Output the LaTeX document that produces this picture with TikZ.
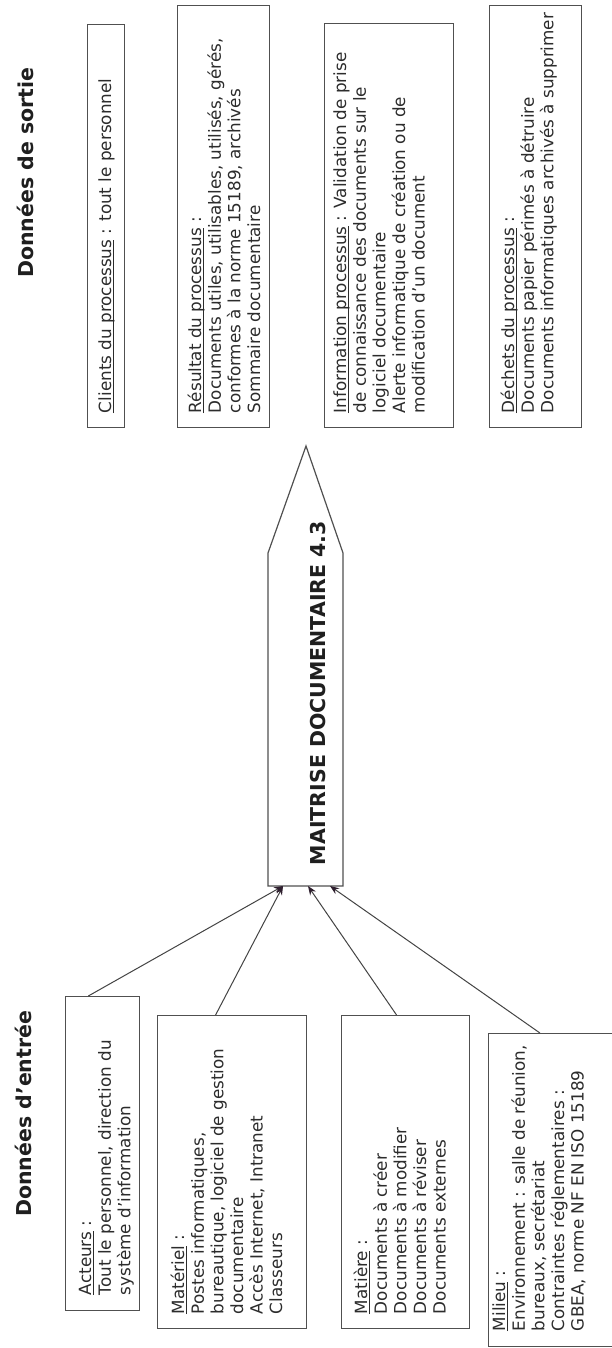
\documentclass[tikz,border=0pt]{standalone}
\usepackage{fontspec}
\setmainfont{DejaVu Sans}
\usetikzlibrary{calc,arrows.meta}

\definecolor{ink}{HTML}{2C2C2C}
\definecolor{framec}{HTML}{505050}
\definecolor{wire}{HTML}{444444}
\definecolor{tipc}{HTML}{2E1F2E}

% underline that sits just below the baseline
\newsavebox\ulbox
\newcommand\ulw[1]{\sbox\ulbox{#1}\rlap{\rule[-2.2pt]{\wd\ulbox}{0.8pt}}\usebox\ulbox}
% fixed height for the first line of every text block
\newcommand\firstline{\rule{0pt}{14pt}}

\begin{document}
\begin{tikzpicture}[x=1pt,y=-1pt,
  boxframe/.style={draw=framec, line width=1.2pt, rectangle, inner sep=0pt, anchor=north west},
  body/.style={rotate=90, anchor=north west, inner sep=0pt, align=left, text=ink,
    font=\fontsize{16.8}{19.6}\selectfont},
  heading/.style={rotate=90, anchor=base west, inner sep=0pt, text=black!88,
    font=\fontsize{20.5}{24}\selectfont\bfseries},
  feed/.style={draw=wire, line width=1pt, -{Stealth[length=9pt,width=7pt,color=tipc]}}
]
\useasboundingbox (0,0) rectangle (612,1348);
\fill[white] (0,0) rectangle (612,1348);

% ---------- headings ----------
\node[heading] (outT) at (33.5,278) {Données de sortie};
\node[heading] (inT) at (31,1217) {Données d’entrée};

% ---------- output boxes ----------
\node[boxframe, minimum width=37pt, minimum height=403pt] (cli) at (87,24) {};
\node[boxframe, minimum width=92pt, minimum height=422pt] (res) at (177,5) {};
\node[boxframe, minimum width=129pt, minimum height=404pt] (inf) at (324,23) {};
\node[boxframe, minimum width=92pt, minimum height=422pt] (dec) at (489,5) {};

\node[body] (cliT) at ($(cli.south west)+(10,-15)$)
  {\firstline\ulw{Clients du processus} : tout le personnel};
\node[body] (resT) at ($(res.south west)+(10,-15)$)
  {\firstline\ulw{Résultat du processus} :\\
   Documents utiles, utilisables, utilisés, gérés,\\
   conformes à la norme 15189, archivés\\
   Sommaire documentaire};
\node[body] (infT) at ($(inf.south west)+(8,-15)$)
  {\firstline\ulw{Information processus} : Validation de prise\\
   de connaissance des documents sur le\\
   logiciel documentaire\\
   Alerte informatique de création ou de\\
   modification d’un document};
\node[body] (decT) at ($(dec.south west)+(11,-15)$)
  {\firstline\ulw{Déchets du processus} :\\
   Documents papier périmés à détruire\\
   Documents informatiques archivés à supprimer};

% ---------- process arrow ----------
\coordinate (procTip) at (306,446);
\coordinate (procL) at (268,553);
\coordinate (procR) at (343,553);
\coordinate (procBL) at (268,886);
\coordinate (procBR) at (343,886);
\draw[draw=framec, line width=1.2pt, line join=miter]
  (procL) -- (procTip) -- (procR) -- (procBR) -- (procBL) -- cycle;
\node[rotate=90, anchor=base, inner sep=0pt, text=black!88,
  font=\fontsize{20.5}{24}\selectfont\bfseries] (proc) at (325,693)
  {MAITRISE DOCUMENTAIRE 4.3};

% ---------- input boxes ----------
\node[boxframe, minimum width=74pt, minimum height=314pt] (act) at (65,996) {};
\node[boxframe, minimum width=149pt, minimum height=313pt] (mat) at (157,1015) {};
\node[boxframe, minimum width=128pt, minimum height=313pt] (mtr) at (341,1015) {};
\node[boxframe, minimum width=132pt, minimum height=313pt] (mil) at (488,1033) {};

\node[body] (actT) at ($(act.south west)+(12,-16)$)
  {\firstline\ulw{Acteurs} :\\
   Tout le personnel, direction du\\
   système d’information};
\node[body] (matT) at ($(mat.south west)+(13,-15)$)
  {\firstline\ulw{Matériel} :\\
   Postes informatiques,\\
   bureautique, logiciel de gestion\\
   documentaire\\
   Accès Internet, Intranet\\
   Classeurs};
\node[body] (mtrT) at ($(mtr.south west)+(12,-15)$)
  {\firstline\ulw{Matière} :\\
   Documents à créer\\
   Documents à modifier\\
   Documents à réviser\\
   Documents externes};
\node[body] (milT) at ($(mil.south west)+(3,-16)$)
  {\firstline\ulw{Milieu} :\\
   Environnement : salle de réunion,\\
   bureaux, secrétariat\\
   Contraintes réglementaires :\\
   GBEA, norme NF EN ISO 15189};

% ---------- feeds into the process ----------
\draw[feed] ($(act.north west)!0.31!(act.north east)$) -- ($(procBL)!0.2!(procBR)$);
\draw[feed] ($(mat.north west)!0.39!(mat.north east)$) -- ($(procBL)!0.2!(procBR)$);
\draw[feed] ($(mtr.north west)!0.43!(mtr.north east)$) -- ($(procBL)!0.533!(procBR)$);
\draw[feed] ($(mil.north west)!0.39!(mil.north east)$) -- ($(procBL)!0.827!(procBR)$);
\end{tikzpicture}
\end{document}
